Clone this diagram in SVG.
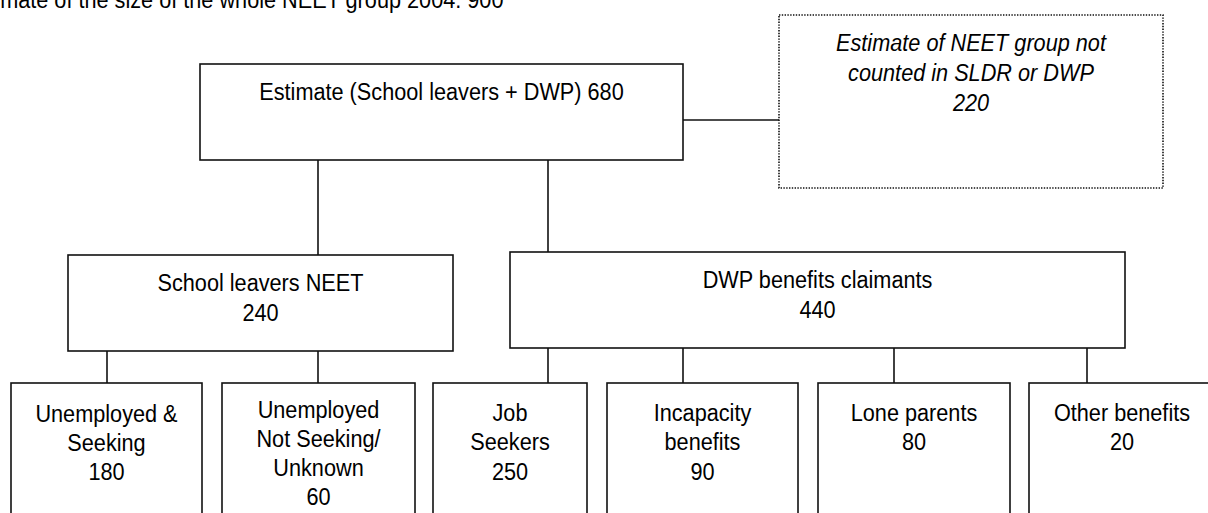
<svg xmlns="http://www.w3.org/2000/svg" width="1208" height="513" viewBox="0 0 1208 513">
<style>
text{font-family:"Liberation Sans",Arial,sans-serif;font-size:21.7px;fill:#000;text-anchor:middle}
.box{fill:#fff;stroke:#111;stroke-width:1.6}
.dot{fill:#fff;stroke:#111;stroke-width:1.6;stroke-dasharray:1.4 1.4}
.it{font-style:italic}
.ln{stroke:#111;stroke-width:1.6;fill:none}
</style>
<rect width="1208" height="513" fill="#fff"/>
<g transform="scale(1,1.12)">
<text x="-36" y="6.7" style="text-anchor:start">Estimate of the size of the whole NEET group 2004: 900</text>
</g>
<g id="connectors">
<line class="ln" x1="683" y1="120" x2="779" y2="120"/>
<line class="ln" x1="318" y1="160" x2="318" y2="255"/>
<line class="ln" x1="548" y1="160" x2="548" y2="252"/>
<line class="ln" x1="107" y1="351" x2="107" y2="383"/>
<line class="ln" x1="318" y1="351" x2="318" y2="383"/>
<line class="ln" x1="548" y1="348" x2="548" y2="383"/>
<line class="ln" x1="683" y1="348" x2="683" y2="383"/>
<line class="ln" x1="894" y1="348" x2="894" y2="383"/>
<line class="ln" x1="1087" y1="348" x2="1087" y2="383"/>
</g>
<g id="total">
<rect class="box" x="200" y="64" width="483" height="96"/>
<g transform="scale(1,1.12)"><text x="441.5" y="89.29">Estimate (School leavers + DWP) 680</text></g>
</g>
<g id="notcounted">
<rect class="dot" x="779" y="15" width="384" height="173"/>
<g transform="scale(1,1.12)">
<text class="it" x="971" y="45.54">Estimate of NEET group not</text>
<text class="it" x="971" y="72.32">counted in SLDR or DWP</text>
<text class="it" x="971" y="99.11">220</text>
</g>
</g>
<g id="schoolleavers">
<rect class="box" x="68" y="255" width="385" height="96"/>
<g transform="scale(1,1.12)">
<text x="260.5" y="259.82">School leavers NEET</text>
<text x="260.5" y="286.61">240</text>
</g>
</g>
<g id="dwp">
<rect class="box" x="510" y="252" width="615" height="96"/>
<g transform="scale(1,1.12)">
<text x="817.5" y="257.14">DWP benefits claimants</text>
<text x="817.5" y="283.93">440</text>
</g>
</g>
<g id="unemployedseeking">
<rect class="box" x="11" y="383" width="191" height="150"/>
<g transform="scale(1,1.12)">
<text x="106.5" y="376.79">Unemployed &amp;</text>
<text x="106.5" y="402.68">Seeking</text>
<text x="106.5" y="428.57">180</text>
</g>
</g>
<g id="notseeking">
<rect class="box" x="222" y="383" width="193" height="150"/>
<g transform="scale(1,1.12)">
<text x="318.5" y="373.21">Unemployed</text>
<text x="318.5" y="399.11">Not Seeking/</text>
<text x="318.5" y="425">Unknown</text>
<text x="318.5" y="450.89">60</text>
</g>
</g>
<g id="jobseekers">
<rect class="box" x="433" y="383" width="154" height="150"/>
<g transform="scale(1,1.12)">
<text x="510" y="375.89">Job</text>
<text x="510" y="401.79">Seekers</text>
<text x="510" y="428.57">250</text>
</g>
</g>
<g id="incapacity">
<rect class="box" x="607" y="383" width="191" height="150"/>
<g transform="scale(1,1.12)">
<text x="702.5" y="375.89">Incapacity</text>
<text x="702.5" y="401.79">benefits</text>
<text x="702.5" y="428.57">90</text>
</g>
</g>
<g id="loneparents">
<rect class="box" x="818" y="383" width="192" height="150"/>
<g transform="scale(1,1.12)">
<text x="914" y="375.89">Lone parents</text>
<text x="914" y="401.79">80</text>
</g>
</g>
<g id="otherbenefits">
<rect class="box" x="1029" y="383" width="186" height="150"/>
<g transform="scale(1,1.12)">
<text x="1122" y="375.89">Other benefits</text>
<text x="1122" y="401.79">20</text>
</g>
</g>
</svg>
